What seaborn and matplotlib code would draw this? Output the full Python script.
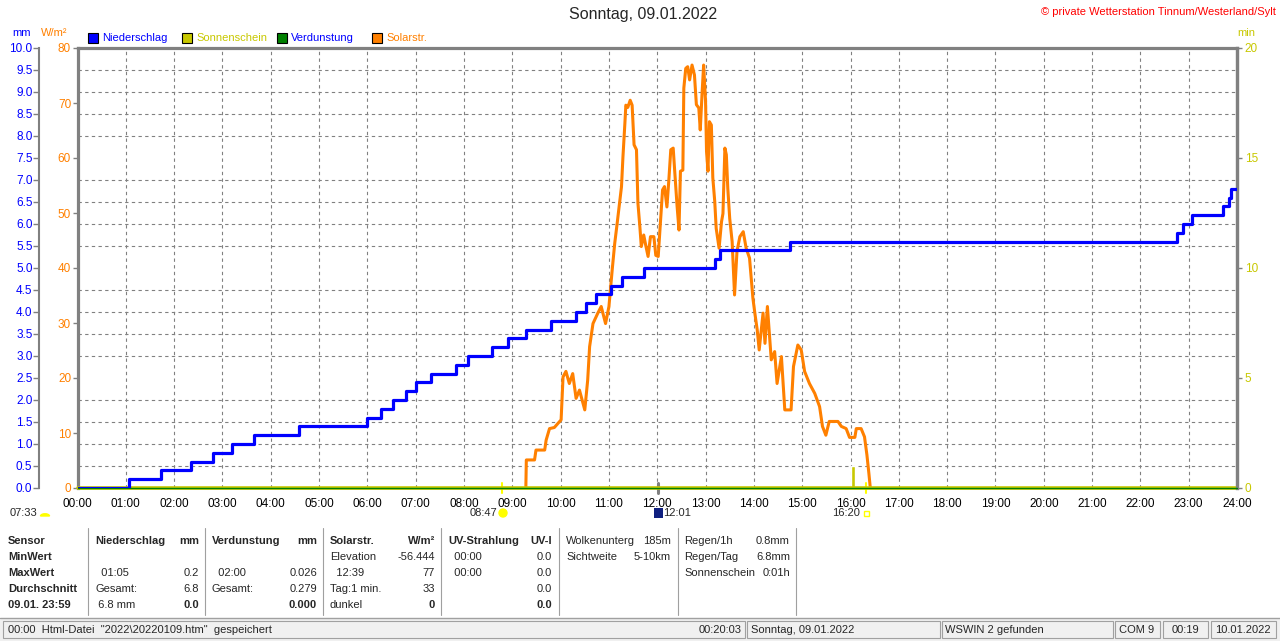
import numpy as np
import pandas as pd
import matplotlib
matplotlib.use("Agg")
import matplotlib.pyplot as plt
import seaborn as sns
from matplotlib.patches import Rectangle

# ---- data -------------------------------------------------------------
# Niederschlag (cumulative, mm) - step times in hours
precip_hours = [0.0, 1.06, 1.73, 2.35, 2.80, 3.19, 3.66, 4.58, 5.99, 6.29, 6.54, 6.80,
                7.00, 7.31, 7.83, 8.09, 8.57, 8.92, 9.28, 9.81, 10.31, 10.52, 10.74,
                11.04, 11.28, 11.72, 13.20, 13.30, 14.74, 22.75, 22.89, 23.07, 23.71,
                23.83, 23.88, 23.98]
precip_mm = [0.0, 0.2, 0.4, 0.6, 0.8, 1.0, 1.2, 1.4, 1.6, 1.8, 2.0, 2.2,
             2.4, 2.6, 2.8, 3.0, 3.2, 3.4, 3.6, 3.8, 4.0, 4.2, 4.4,
             4.6, 4.8, 5.0, 5.2, 5.4, 5.6, 5.8, 6.0, 6.2, 6.4,
             6.6, 6.8, 6.8]

# Solarstrahlung (W/m²)
solar_hours = [9.28, 9.29, 9.46, 9.49, 9.67, 9.70, 9.77, 9.87, 10.01, 10.05, 10.11, 10.18,
               10.25, 10.32, 10.39, 10.50, 10.56, 10.60, 10.67, 10.77, 10.84, 10.93, 11.00,
               11.07, 11.12, 11.17, 11.21, 11.26, 11.29, 11.33, 11.35, 11.39, 11.44, 11.48,
               11.52, 11.57, 11.60, 11.64, 11.67, 11.72, 11.76, 11.81, 11.86, 11.93, 11.97,
               12.02, 12.06, 12.11, 12.15, 12.20, 12.24, 12.28, 12.33, 12.36, 12.41, 12.45,
               12.48, 12.53, 12.55, 12.59, 12.63, 12.67, 12.72, 12.77, 12.81, 12.86, 12.89,
               12.93, 12.96, 13.00, 13.02, 13.05, 13.08, 13.12, 13.15, 13.19, 13.22, 13.28,
               13.33, 13.36, 13.40, 13.43, 13.46, 13.50, 13.55, 13.60, 13.65, 13.71, 13.78,
               13.84, 13.91, 13.98, 14.02, 14.07, 14.11, 14.19, 14.23, 14.28, 14.36, 14.43,
               14.48, 14.57, 14.64, 14.77, 14.82, 14.91, 14.98, 15.05, 15.15, 15.26, 15.36,
               15.42, 15.49, 15.56, 15.74, 15.81, 15.91, 15.98, 16.09, 16.12, 16.22, 16.29,
               16.34, 16.38, 16.41]
solar_wm2 = [0.0, 5.1, 5.1, 6.9, 6.9, 8.7, 10.8, 11.0, 12.4, 20.2, 21.2, 19.0,
             20.8, 16.3, 17.8, 14.2, 19.6, 25.7, 29.9, 31.8, 33.0, 29.9, 33.0,
             39.9, 44.5, 48.1, 51.1, 54.8, 60.2, 66.3, 69.6, 69.2, 70.5, 69.6,
             62.4, 61.5, 51.8, 47.5, 43.9, 46.0, 44.2, 42.1, 45.7, 45.7, 42.3,
             42.1, 47.5, 54.2, 54.8, 51.1, 56.0, 61.5, 61.8, 57.8, 51.3, 46.9,
             57.6, 57.8, 72.7, 76.3, 76.6, 74.2, 76.9, 75.1, 69.7, 69.1, 65.1,
             72.1, 76.9, 70.3, 61.2, 57.6, 66.6, 66.0, 56.4, 52.1, 47.2, 43.6,
             48.4, 49.9, 61.8, 60.6, 54.5, 49.0, 44.8, 35.1, 43.0, 45.7, 46.6,
             43.6, 41.8, 34.5, 31.8, 28.7, 25.1, 31.8, 26.3, 33.0, 23.3, 24.8,
             19.0, 23.9, 14.2, 14.2, 22.1, 26.0, 25.1, 21.2, 19.0, 17.2, 14.8,
             11.2, 9.6, 12.1, 12.1, 11.2, 10.8, 9.2, 9.2, 10.8, 10.8, 9.3,
             6.0, 2.7, 0.0]

# Sonnenschein (min) and Verdunstung (mm)
sun_line_hours = [0.0, 24.0]
sun_line_min = [0.0, 0.0]
sun_bar_hours = [16.06]
sun_bar_min = [1.0]
verd_hours = [0.0, 24.0]
verd_mm = [0.0, 0.0]

hour_labels = ["00:00", "01:00", "02:00", "03:00", "04:00", "05:00", "06:00", "07:00",
               "08:00", "09:00", "10:00", "11:00", "12:00", "13:00", "14:00", "15:00",
               "16:00", "17:00", "18:00", "19:00", "20:00", "21:00", "22:00", "23:00", "24:00"]
mm_ticks = [0.0, 0.5, 1.0, 1.5, 2.0, 2.5, 3.0, 3.5, 4.0, 4.5, 5.0, 5.5, 6.0, 6.5, 7.0,
            7.5, 8.0, 8.5, 9.0, 9.5, 10.0]
wm2_ticks = [0, 10, 20, 30, 40, 50, 60, 70, 80]
min_ticks = [0, 5, 10, 15, 20]

legend_labels = ["Niederschlag", "Sonnenschein", "Verdunstung", "Solarstr."]
legend_colors = ["#0000FF", "#C8C800", "#008000", "#FF8000"]
legend_text_colors = ["#0000FF", "#C8C800", "#0000FF", "#FF8000"]

# sunrise / noon / sunset markers
event_hours = [8.78, 12.02, 16.33]

# ---- style ----------------------------------------------------------
sns.set_style("white")
plt.rcParams["font.family"] = ["Liberation Sans", "DejaVu Sans"]
plt.rcParams["font.size"] = 8

W, H = 1280, 641
def fx(x):
    return x / W
def fy(y):
    return 1 - y / H

BLUE = "#0000FF"
ORANGE = "#FF8000"
OLIVE = "#C8C800"
GREEN = "#008000"
GRAY = "#808080"
TICK_FS = 8.5

fig = plt.figure(figsize=(12.8, 6.41), dpi=100)
fig.patch.set_facecolor("white")

ax = fig.add_axes([fx(77.5), fy(488), (1237 - 77.5) / W, 440 / H])
ax.set_xlim(0, 24)
ax.set_ylim(0, 80)
ax.set_facecolor("white")

# grid: every hour, every 0.5 mm (= 4 W/m²)
ax.set_xticks(range(25))
ax.set_xticklabels(hour_labels, fontsize=TICK_FS, color="black")
ax.set_yticks(wm2_ticks)
ax.set_yticks(np.arange(0, 81, 4), minor=True)
ax.grid(False)
ax.xaxis.grid(True, which="major", linestyle=(0, (3, 3)), color=GRAY, lw=0.8)
ax.yaxis.grid(True, which="minor", linestyle=(0, (3, 3)), color=GRAY, lw=0.8)
ax.tick_params(axis="x", length=0, pad=7)
ax.tick_params(axis="y", which="major", direction="out", length=3.6, width=1,
               color=GRAY, labelcolor=ORANGE, labelsize=TICK_FS, pad=1, left=True)
ax.tick_params(axis="y", which="minor", length=0)
for s in ["top", "left", "right"]:
    ax.spines[s].set_color(GRAY)
    ax.spines[s].set_linewidth(2.3)
ax.spines["bottom"].set_visible(False)

# solar radiation
sns.lineplot(x=solar_hours, y=solar_wm2, ax=ax, color=ORANGE, lw=2.2,
             estimator=None, sort=False, legend=False)
ax.set_xlabel("")
ax.set_ylabel("")

# sunshine axis (min, right)
ax_min = ax.twinx()
ax_min.set_ylim(0, 20)
ax_min.set_yticks(min_ticks)
ax_min.tick_params(axis="y", direction="out", length=3.6, width=1, color=GRAY,
                   labelcolor=OLIVE, labelsize=TICK_FS, pad=2)
for s in ["top", "left", "bottom"]:
    ax_min.spines[s].set_visible(False)
ax_min.spines["right"].set_color(GRAY)
ax_min.spines["right"].set_linewidth(2.3)
sns.lineplot(x=sun_line_hours, y=sun_line_min, ax=ax_min, color=OLIVE, lw=2.6,
             estimator=None, legend=False, clip_on=False)
ax_min.bar(sun_bar_hours, sun_bar_min, width=0.08, color=OLIVE, align="center")
ax_min.set_ylabel("")
ax_min.set_zorder(1)

# precipitation axis (mm, outer left)
ax_mm = ax.twinx()
ax_mm.set_ylim(0, 10)
ax_mm.yaxis.tick_left()
ax_mm.set_yticks(mm_ticks)
ax_mm.set_yticklabels([f"{v:.1f}" for v in mm_ticks])
ax_mm.spines["left"].set_position(("outward", 27.4))
ax_mm.spines["left"].set_visible(True)
ax_mm.spines["left"].set_color(GRAY)
ax_mm.spines["left"].set_linewidth(1.5)
for s in ["top", "right", "bottom"]:
    ax_mm.spines[s].set_visible(False)
ax_mm.tick_params(axis="y", direction="out", length=4, width=1, color=GRAY,
                  labelcolor=BLUE, labelsize=TICK_FS, pad=1)
sns.lineplot(x=verd_hours, y=verd_mm, ax=ax_mm, color=GREEN, lw=1.0,
             estimator=None, legend=False, clip_on=False)
sns.lineplot(x=precip_hours, y=precip_mm, ax=ax_mm, color=BLUE, lw=2.3,
             drawstyle="steps-post", estimator=None, sort=False, legend=False)
ax_mm.set_ylabel("")
ax_mm.set_zorder(2)

# sunrise / noon / sunset marks under the axis
xt = ax.get_xaxis_transform()
for h, c, w in zip(event_hours, ["#FFFF00", GRAY, "#FFFF00"], [1.5, 2.2, 1.5]):
    ax.plot([h, h], [-0.012, 0.012], transform=xt, color=c, lw=w, clip_on=False, zorder=5)

# ---- header texts ---------------------------------------------------
fig.text(fx(643), fy(15), "Sonntag, 09.01.2022", ha="center", va="center", fontsize=11.5)
fig.text(fx(1276), fy(12), "© private Wetterstation Tinnum/Westerland/Sylt",
         ha="right", va="center", fontsize=8, color="#FF0000")
fig.text(fx(22), fy(33), "mm", ha="center", va="center", color=BLUE, fontsize=8)
fig.text(fx(54), fy(33), "W/m²", ha="center", va="center", color=ORANGE, fontsize=8)
fig.text(fx(1246), fy(33), "min", ha="center", va="center", color=OLIVE, fontsize=8)

for xs, lab, col, tcol in zip([88, 182, 277, 372], legend_labels, legend_colors, legend_text_colors):
    fig.patches.append(Rectangle((fx(xs), fy(43)), 10 / W, 10 / H, transform=fig.transFigure,
                                 facecolor=col, edgecolor="black", lw=0.8))
    fig.text(fx(xs + 14), fy(38), lab, ha="left", va="center", color=tcol, fontsize=8)

# event labels below the time axis
fig.text(fx(10), fy(513), "07:33", ha="left", va="center", fontsize=8)
fig.patches.append(matplotlib.patches.Wedge((fx(45), fy(516)), 0.0035, 0, 180,
                   transform=fig.transFigure, facecolor="#FFFF00", edgecolor="#FFFF00"))
fig.text(fx(497), fy(513), "08:47", ha="right", va="center", fontsize=8)
fig.patches.append(matplotlib.patches.Ellipse((fx(503), fy(513)), 8 / W, 8 / H,
                   transform=fig.transFigure, facecolor="#FFFF00", edgecolor="#FFFF00"))
fig.patches.append(Rectangle((fx(654), fy(518)), 9 / W, 10 / H, transform=fig.transFigure,
                             facecolor="#102080", edgecolor="none"))
fig.text(fx(663), fy(513), "12:01", ha="left", va="center", fontsize=8)
fig.text(fx(860), fy(513), "16:20", ha="right", va="center", fontsize=8)
fig.patches.append(Rectangle((fx(864), fy(516)), 5 / W, 5 / H, transform=fig.transFigure,
                             facecolor="none", edgecolor="#FFFF00", lw=1))

# ---- table ------------------------------------------------------------
row_y = [541, 557, 573, 589, 605]
for xv in [88, 205, 323, 441, 559, 678, 796]:
    fig.lines.append(plt.Line2D([fx(xv), fx(xv)], [fy(528), fy(615)],
                                transform=fig.transFigure, color="#A0A0A0", lw=0.8))

col_sensor = ["Sensor", "MinWert", "MaxWert", "Durchschnitt", "09.01. 23:59"]
for y, t in zip(row_y, col_sensor):
    fig.text(fx(8), fy(y), t, ha="left", va="center", fontsize=8, fontweight="bold")

def col(x0, x1, head_l, head_r, left, right, last_bold):
    fig.text(fx(x0), fy(row_y[0]), head_l, ha="left", va="center", fontsize=8, fontweight="bold")
    fig.text(fx(x1), fy(row_y[0]), head_r, ha="right", va="center", fontsize=8, fontweight="bold")
    for i, (l, r) in enumerate(zip(left, right)):
        y = row_y[i + 1]
        fig.text(fx(x0), fy(y), l, ha="left", va="center", fontsize=8)
        fig.text(fx(x1), fy(y), r, ha="right", va="center", fontsize=8,
                 fontweight="bold" if (last_bold and i == 3) else "normal")

col(95, 199, "Niederschlag", "mm", ["", "  01:05", "Gesamt:", " 6.8 mm"], ["", "0.2", "6.8", "0.0"], True)
col(212, 317, "Verdunstung", "mm", ["", "  02:00", "Gesamt:", ""], ["", "0.026", "0.279", "0.000"], True)
col(330, 435, "Solarstr.", "W/m²", ["Elevation", "  12:39", "Tag:1 min.", "dunkel"],
    ["-56.444", "77", "33", "0"], True)
col(448, 552, "UV-Strahlung", "UV-I", ["  00:00", "  00:00", "", ""], ["0.0", "0.0", "0.0", "0.0"], True)

fig.text(fx(566), fy(541), "Wolkenunterg", ha="left", va="center", fontsize=8)
fig.text(fx(671), fy(541), "185m", ha="right", va="center", fontsize=8)
fig.text(fx(566), fy(557), "Sichtweite", ha="left", va="center", fontsize=8)
fig.text(fx(671), fy(557), "5-10km", ha="right", va="center", fontsize=8)
for y, l, r in zip(row_y[:3], ["Regen/1h", "Regen/Tag", "Sonnenschein"], ["0.8mm", "6.8mm", "0:01h"]):
    fig.text(fx(684), fy(y), l, ha="left", va="center", fontsize=8)
    fig.text(fx(790), fy(y), r, ha="right", va="center", fontsize=8)

# ---- status bar -----------------------------------------------------
fig.patches.append(Rectangle((0, 0), 1, 23 / H, transform=fig.transFigure,
                             facecolor="#F0F0F0", edgecolor="none"))
fig.lines.append(plt.Line2D([0, 1], [fy(618), fy(618)], transform=fig.transFigure,
                            color="#A0A0A0", lw=1))
boxes = [(3, 745), (747, 940), (942, 1113), (1115, 1160), (1163, 1208), (1211, 1276)]
for x0, x1 in boxes:
    fig.patches.append(Rectangle((fx(x0), fy(638)), (x1 - x0) / W, 17 / H, transform=fig.transFigure,
                                 facecolor="#F0F0F0", edgecolor="#A0A0A0", lw=0.8))
fig.text(fx(8), fy(630), '00:00  Html-Datei  "2022\\20220109.htm"  gespeichert', ha="left", va="center", fontsize=8)
fig.text(fx(742), fy(630), "00:20:03", ha="right", va="center", fontsize=8)
fig.text(fx(751), fy(630), "Sonntag, 09.01.2022", ha="left", va="center", fontsize=8)
fig.text(fx(945), fy(630), "WSWIN 2 gefunden", ha="left", va="center", fontsize=8)
fig.text(fx(1137), fy(630), "COM 9", ha="center", va="center", fontsize=8)
fig.text(fx(1185), fy(630), "00:19", ha="center", va="center", fontsize=8)
fig.text(fx(1243), fy(630), "10.01.2022", ha="center", va="center", fontsize=8)

fig.savefig("out.png", dpi=100)
